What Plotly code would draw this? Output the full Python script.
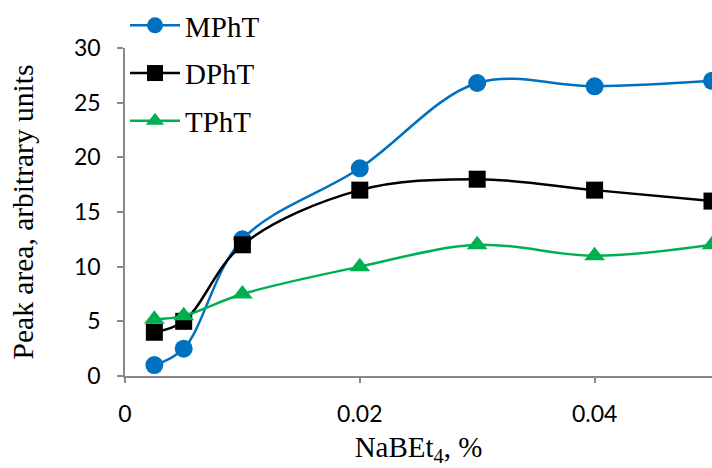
import plotly.graph_objects as go

x_vals = [0.0025, 0.005, 0.01, 0.02, 0.03, 0.04, 0.05]
mpht = [1.0, 2.5, 12.5, 19.0, 26.8, 26.5, 27.0]
dpht = [4.0, 5.0, 12.0, 17.0, 18.0, 17.0, 16.0]
tpht = [5.2, 5.5, 7.5, 10.0, 12.0, 11.0, 12.0]
series_names = ["MPhT", "DPhT", "TPhT"]
colors = ["#0070C0", "#000000", "#00B050"]
symbols = ["circle", "square", "triangle-up"]

fig = go.Figure()
for name, ys, c, s in zip(series_names, [mpht, dpht, tpht], colors, symbols):
    fig.add_trace(go.Scatter(
        x=x_vals, y=ys, name=name, legendgroup=name,
        mode="lines+markers",
        line=dict(color=c, width=2.5, shape="spline", smoothing=1),
        marker=dict(symbol=s, size=18 if s != "square" else 17, color=c),
    ))

axis_color = "#898989"
fig.update_layout(
    width=712, height=468,
    margin=dict(l=125, r=0, t=48, b=92, autoexpand=False),
    paper_bgcolor="white", plot_bgcolor="white",
    showlegend=True,
    legend=dict(
        x=0.0, y=1.0, xref="paper", yref="container",
        xanchor="left", yanchor="top",
        font=dict(family="Liberation Serif", size=29, color="black"),
        tracegroupgap=7, bgcolor="rgba(0,0,0,0)",
        itemwidth=50,
    ),
    xaxis=dict(
        range=[0, 0.05], tickvals=[0, 0.02, 0.04], ticktext=["0", "0.02", "0.04"],
        showgrid=False, zeroline=False,
        showline=True, linecolor=axis_color, linewidth=1.5,
        ticks="outside", ticklen=5, tickcolor=axis_color, tickwidth=1.5,
        ticklabelstandoff=12,
        tickfont=dict(family="Lato", size=23, color="black"),
        title=dict(text="NaBEt<sub>4</sub>, %", font=dict(family="Liberation Serif", size=29, color="black"), standoff=10),
    ),
    yaxis=dict(
        range=[0, 30], tickvals=[0, 5, 10, 15, 20, 25, 30],
        showgrid=False, zeroline=False,
        showline=True, linecolor=axis_color, linewidth=1.5,
        ticks="outside", ticklen=6, tickcolor=axis_color, tickwidth=1.5,
        ticklabelstandoff=12,
        tickfont=dict(family="Lato", size=23, color="black"),
        title=dict(text="Peak area, arbitrary units", font=dict(family="Liberation Serif", size=29.5, color="black"), standoff=32),
    ),
)

fig.write_html("out.html")
